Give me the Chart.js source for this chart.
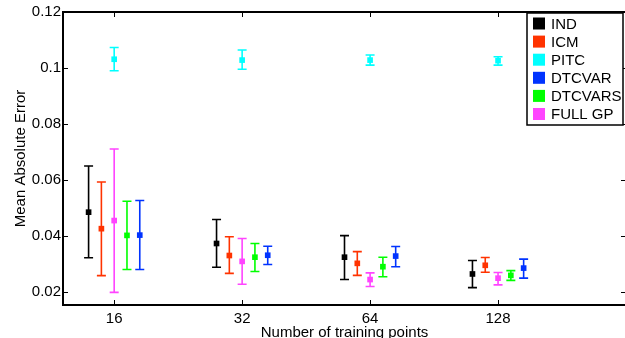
<!DOCTYPE html>
<html>
<head>
<meta charset="utf-8">
<script src="https://cdn.jsdelivr.net/npm/chart.js@4.4.1/dist/chart.umd.min.js"></script>
<style>
    html, body { margin: 0; padding: 0; background: #fff; overflow: hidden; }
    #wrap { position: relative; width: 630px; height: 338px; }
</style>
</head>
<body>
<div id="wrap"><canvas id="maeChart"></canvas></div>
<script>
// training set sizes, drawn at positions 1..4
const trainSizes = ['16', '32', '64', '128'];
const yTickValues = [0.02, 0.04, 0.06, 0.08, 0.1, 0.12];

const seriesNames = ['IND', 'ICM', 'PITC', 'DTCVAR', 'DTCVARS', 'FULL GP'];
const seriesColors = ['#000000', '#ff3300', '#00ffff', '#0033ff', '#00ff00', '#ff44ff'];
const seriesShift = [-0.2, -0.1, 0, 0.2, 0.1, 0];

// mean absolute error and error bar ends, per training size
const indMean = [0.0484, 0.0372, 0.0323, 0.0263];
const indLow = [0.0321, 0.0287, 0.0243, 0.0214];
const indHigh = [0.0649, 0.0458, 0.0400, 0.0311];

const icmMean = [0.0425, 0.0329, 0.0301, 0.0294];
const icmLow = [0.0257, 0.0265, 0.0258, 0.0269];
const icmHigh = [0.0592, 0.0396, 0.0343, 0.0322];

const pitcMean = [0.1031, 0.1028, 0.1028, 0.1026];
const pitcLow = [0.0990, 0.0995, 0.1010, 0.1010];
const pitcHigh = [0.1073, 0.1064, 0.1046, 0.1040];

const dtcvarMean = [0.0402, 0.0330, 0.0327, 0.0284];
const dtcvarLow = [0.0279, 0.0297, 0.0289, 0.0248];
const dtcvarHigh = [0.0526, 0.0362, 0.0361, 0.0316];

const dtcvarsMean = [0.0401, 0.0323, 0.0289, 0.0258];
const dtcvarsLow = [0.0279, 0.0272, 0.0253, 0.0240];
const dtcvarsHigh = [0.0523, 0.0372, 0.0323, 0.0275];

const fullMean = [0.0454, 0.0308, 0.0243, 0.0248];
const fullLow = [0.0197, 0.0226, 0.0218, 0.0224];
const fullHigh = [0.0710, 0.0390, 0.0267, 0.0268];

const means = [indMean, icmMean, pitcMean, dtcvarMean, dtcvarsMean, fullMean];
const lows = [indLow, icmLow, pitcLow, dtcvarLow, dtcvarsLow, fullLow];
const highs = [indHigh, icmHigh, pitcHigh, dtcvarHigh, dtcvarsHigh, fullHigh];

const FONT = '"Liberation Sans", Arial, Helvetica, sans-serif';

const datasets = seriesNames.map((name, s) => ({
    label: name,
    data: means[s].map((v, i) => ({ x: i + 1 + seriesShift[s], y: v, lo: lows[s][i], hi: highs[s][i] })),
    backgroundColor: seriesColors[s],
    borderColor: seriesColors[s],
    pointStyle: 'rect',
    pointRadius: 4,
    pointHoverRadius: 4,
    borderWidth: 0,
    showLine: false
}));

// error bars under the markers
const errorBars = {
    id: 'errorBars',
    beforeDatasetsDraw(chart) {
        const ctx = chart.ctx;
        const xs = chart.scales.x, ys = chart.scales.y;
        ctx.save();
        chart.data.datasets.forEach(ds => {
            ctx.strokeStyle = ds.borderColor;
            ctx.lineWidth = 1.6;
            ds.data.forEach(p => {
                const px = xs.getPixelForValue(p.x);
                const top = ys.getPixelForValue(p.hi);
                const bot = ys.getPixelForValue(p.lo);
                ctx.beginPath();
                ctx.moveTo(px, top); ctx.lineTo(px, bot);
                ctx.moveTo(px - 4.5, top); ctx.lineTo(px + 4.5, top);
                ctx.moveTo(px - 4.5, bot); ctx.lineTo(px + 4.5, bot);
                ctx.stroke();
            });
        });
        ctx.restore();
    }
};

// matlab style box with inward ticks, plus the legend box
const frameAndLegend = {
    id: 'frameAndLegend',
    afterDraw(chart) {
        const ctx = chart.ctx;
        const a = chart.chartArea;
        const xs = chart.scales.x, ys = chart.scales.y;
        ctx.save();
        ctx.strokeStyle = '#000';
        ctx.lineWidth = 1;
        const tl = 5;
        ctx.beginPath();
        xs.ticks.forEach(t => {
            const px = Math.round(xs.getPixelForValue(t.value)) + 0.5;
            ctx.moveTo(px, a.bottom); ctx.lineTo(px, a.bottom - tl);
            ctx.moveTo(px, a.top); ctx.lineTo(px, a.top + tl);
        });
        ys.ticks.forEach(t => {
            const py = Math.round(ys.getPixelForValue(t.value)) + 0.5;
            ctx.moveTo(a.left, py); ctx.lineTo(a.left + tl, py);
            ctx.moveTo(a.right, py); ctx.lineTo(a.right - tl, py);
        });
        ctx.stroke();
        ctx.lineWidth = 2;
        ctx.strokeRect(a.left, a.top, a.right - a.left, a.bottom - a.top);

        // legend
        const lx = 527, ly = 13, lw = 96, lh = 112;
        ctx.fillStyle = '#fff';
        ctx.fillRect(lx, ly, lw, lh);
        ctx.lineWidth = 1.5;
        ctx.strokeRect(lx, ly, lw, lh);
        ctx.font = '15px ' + FONT;
        ctx.textBaseline = 'middle';
        ctx.textAlign = 'left';
        chart.data.datasets.forEach((ds, i) => {
            const cy = 23.5 + i * 18.1;
            ctx.fillStyle = ds.backgroundColor;
            ctx.fillRect(lx + 6, cy - 6, 12, 12);
            ctx.fillStyle = '#000';
            ctx.fillText(ds.label, lx + 24, cy + 1);
        });
        ctx.restore();
    }
};

const ctx = document.getElementById('maeChart').getContext('2d');
new Chart(ctx, {
    type: 'scatter',
    data: { datasets: datasets },
    options: {
        responsive: true,
        maintainAspectRatio: false,
        animation: false,
        events: [],
        layout: { padding: { top: 12, right: 2, left: 0, bottom: 0 } },
        plugins: { legend: { display: false }, tooltip: { enabled: false } },
        scales: {
            x: {
                type: 'linear',
                min: 0.6,
                max: 5,
                afterFit: s => { s.height = 33; },
                afterBuildTicks: s => { s.ticks = trainSizes.map((t, i) => ({ value: i + 1 })); },
                grid: { display: false, drawTicks: false },
                border: { display: false },
                ticks: {
                    color: '#000',
                    padding: 5,
                    maxRotation: 0,
                    font: { family: FONT, size: 15 },
                    callback: (v, i) => trainSizes[i]
                },
                title: {
                    display: true,
                    text: 'Number of training points',
                    color: '#000',
                    font: { family: FONT, size: 15 },
                    padding: { top: 0, bottom: -4 }
                }
            },
            y: {
                min: 0.0152,
                max: 0.12,
                afterFit: s => { s.width = 63; },
                afterBuildTicks: s => { s.ticks = yTickValues.map(v => ({ value: v })); },
                grid: { display: false, drawTicks: false },
                border: { display: false },
                ticks: {
                    color: '#000',
                    padding: 2,
                    font: { family: FONT, size: 15 },
                    callback: v => String(+v.toFixed(2))
                },
                title: {
                    display: true,
                    text: 'Mean Absolute Error',
                    color: '#000',
                    font: { family: FONT, size: 15 },
                    padding: { top: 12, bottom: 0 }
                }
            }
        }
    },
    plugins: [errorBars, frameAndLegend]
});
</script>
</body>
</html>
